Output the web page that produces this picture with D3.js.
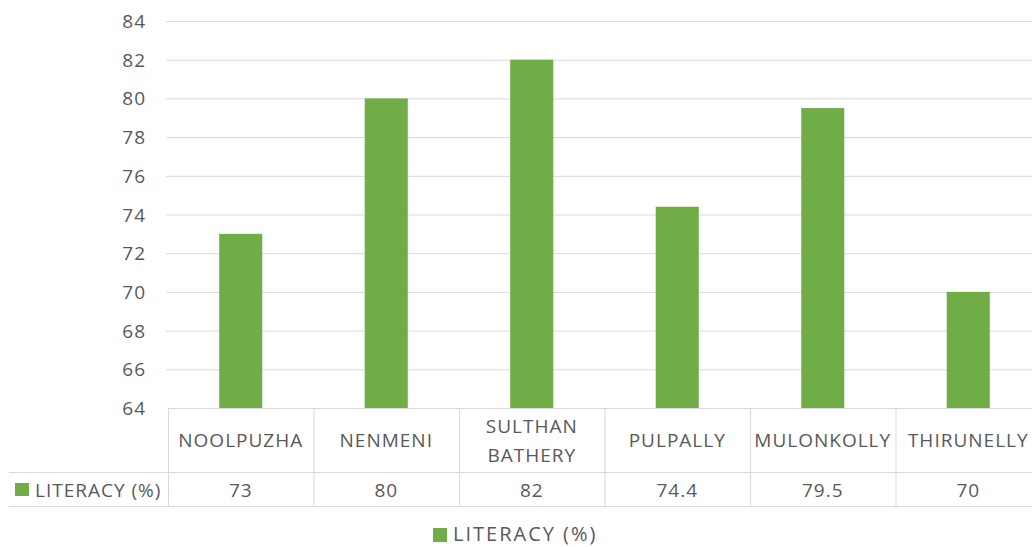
<!DOCTYPE html>
<html>
<head>
<meta charset="utf-8">
<script src="https://cdn.jsdelivr.net/npm/d3@7"></script>
<style>
  body { margin: 0; background: #fff; }
  text { font-family: "Open Sans", sans-serif; fill: #595959; }
</style>
</head>
<body>
<div id="main"></div>
<script>
// Literacy by block - column chart with data table
const categories = [["NOOLPUZHA"], ["NENMENI"], ["SULTHAN", "BATHERY"], ["PULPALLY"], ["MULONKOLLY"], ["THIRUNELLY"]];
const literacy = [73, 80, 82, 74.4, 79.5, 70];
const valueLabels = ["73", "80", "82", "74.4", "79.5", "70"];
const yTicks = [64, 66, 68, 70, 72, 74, 76, 78, 80, 82, 84];
const seriesName = "LITERACY (%)";

const ctx = { width: 1032, height: 547, left: 168, right: 1041, top: 21, axisY: 408,
  rowY: 472, bottomY: 506, green: "#70AD47", grid: "#d9d9d9" };

const svg = d3.select("#main").append("svg")
  .attr("width", ctx.width).attr("height", ctx.height);

const y = d3.scaleLinear().domain([64, 84]).range([ctx.axisY, ctx.top]);
const x = d3.scaleBand().domain(d3.range(categories.length)).range([ctx.left, ctx.right]).padding(0);
const barW = x.bandwidth() * 0.296;

// gridlines
svg.append("g").selectAll("line").data(yTicks.slice(1)).join("line")
  .attr("x1", 166).attr("x2", ctx.width)
  .attr("y1", d => y(d) + 0.5).attr("y2", d => y(d) + 0.5)
  .attr("stroke", ctx.grid).attr("stroke-width", 1);

// y labels
svg.append("g").selectAll("text").data(yTicks).join("text")
  .attr("x", 146).attr("y", d => y(d) + 7)
  .attr("text-anchor", "end").attr("font-size", 19).attr("letter-spacing", 1)
  .text(d => d);

// bars
svg.append("g").selectAll("rect").data(literacy).join("rect")
  .attr("x", (d, i) => x(i) + x.bandwidth() / 2 - barW / 2)
  .attr("width", barW)
  .attr("y", d => y(d))
  .attr("height", d => y(64) - y(d))
  .attr("fill", ctx.green);

// data table lines
const tbl = svg.append("g").attr("stroke", ctx.grid).attr("stroke-width", 1);
tbl.append("line").attr("x1", ctx.left).attr("x2", ctx.width).attr("y1", ctx.axisY + 0.5).attr("y2", ctx.axisY + 0.5);
tbl.append("line").attr("x1", 9).attr("x2", ctx.width).attr("y1", ctx.rowY + 0.5).attr("y2", ctx.rowY + 0.5);
tbl.append("line").attr("x1", 9).attr("x2", ctx.width).attr("y1", ctx.bottomY + 0.5).attr("y2", ctx.bottomY + 0.5);
tbl.selectAll("line.v").data(d3.range(categories.length + 1)).join("line")
  .attr("class", "v")
  .attr("x1", i => (i < categories.length ? x(i) : ctx.right) + 0.5)
  .attr("x2", i => (i < categories.length ? x(i) : ctx.right) + 0.5)
  .attr("y1", ctx.axisY).attr("y2", ctx.bottomY);

// category labels
const cat = svg.append("g").selectAll("text").data(categories).join("text")
  .attr("text-anchor", "middle").attr("font-size", 19).attr("letter-spacing", 1)
  .attr("x", (d, i) => x(i) + x.bandwidth() / 2)
  .attr("y", d => d.length > 1 ? 433 : 447);
cat.selectAll("tspan").data(d => d).join("tspan")
  .attr("x", function() { return d3.select(this.parentNode).attr("x"); })
  .attr("dy", (d, i) => i === 0 ? 0 : 29)
  .text(d => d);

// values row
svg.append("g").selectAll("text").data(valueLabels).join("text")
  .attr("text-anchor", "middle").attr("font-size", 19).attr("letter-spacing", 1)
  .attr("x", (d, i) => x(i) + x.bandwidth() / 2)
  .attr("y", 497)
  .text(d => d);

// row legend key
svg.append("rect").attr("x", 15).attr("y", 483).attr("width", 14).attr("height", 13).attr("fill", ctx.green);
svg.append("text").attr("x", 35).attr("y", 497).attr("font-size", 19).attr("letter-spacing", 1).text(seriesName);

// bottom legend
svg.append("rect").attr("x", 433).attr("y", 528).attr("width", 14).attr("height", 14).attr("fill", ctx.green);
svg.append("text").attr("x", 453).attr("y", 541).attr("font-size", 20).attr("letter-spacing", 2).text(seriesName);
</script>
</body>
</html>
